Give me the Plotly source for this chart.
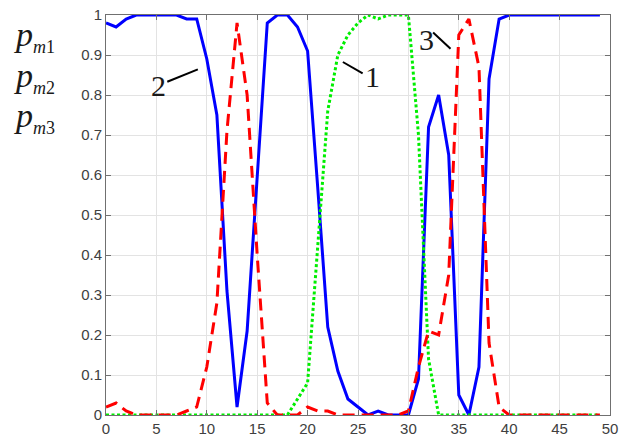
import plotly.graph_objects as go

x_vals = list(range(50))

p_m2_blue = [0.98, 0.97, 0.99, 1.0, 1.0, 1.0, 1.0, 1.0, 0.99, 0.99,
             0.89, 0.75, 0.31, 0.02, 0.21, 0.6, 0.98, 1.0, 1.0, 0.97,
             0.91, 0.57, 0.22, 0.11, 0.04, 0.02, 0.0, 0.01, 0.0, 0.0,
             0.0, 0.09, 0.72, 0.8, 0.65, 0.05, 0.0, 0.12, 0.84, 0.99,
             1.0, 1.0, 1.0, 1.0, 1.0, 1.0, 1.0, 1.0, 1.0, 1.0]

p_m1_green = [0.0] * 19 + [0.04, 0.08, 0.42, 0.76, 0.9, 0.95, 0.98, 1.0, 0.99, 1.0, 1.0,
                           1.0, 0.7, 0.14] + [0.0] * 17

p_m3_red = [0.02, 0.03, 0.01, 0.0, 0.0, 0.0, 0.0, 0.0, 0.01, 0.02,
            0.12, 0.28, 0.71, 0.98, 0.8, 0.4, 0.03, 0.0, 0.0, 0.0,
            0.02, 0.01, 0.01, 0.0, 0.0, 0.0, 0.0, 0.0, 0.0, 0.0,
            0.01, 0.12, 0.21, 0.2, 0.35, 0.95, 0.99, 0.87, 0.18, 0.02,
            0.0, 0.0, 0.0, 0.0, 0.0, 0.0, 0.0, 0.0, 0.0, 0.0]

x_ticks = list(range(0, 51, 5))
y_ticks = [round(i * 0.1, 1) for i in range(11)]
y_tick_text = ["0", "0.1", "0.2", "0.3", "0.4", "0.5", "0.6", "0.7", "0.8", "0.9", "1"]

fig = go.Figure()
fig.add_trace(go.Scatter(x=x_vals, y=p_m2_blue, mode="lines",
                         line=dict(color="#0000ff", width=3), cliponaxis=False))
fig.add_trace(go.Scatter(x=x_vals, y=p_m1_green, mode="lines",
                         line=dict(color="#00ee00", width=3, dash="3px,2.5px"), cliponaxis=False))
fig.add_trace(go.Scatter(x=x_vals, y=p_m3_red, mode="lines",
                         line=dict(color="#ff0000", width=3, dash="12px,7px"), cliponaxis=False))

axis_common = dict(
    showgrid=True, gridcolor="#e3e3e3", gridwidth=1,
    showline=True, linecolor="#707070", linewidth=1, mirror="ticks",
    ticks="inside", ticklen=5, tickcolor="#707070",
    tickfont=dict(family="Liberation Sans, Arial", size=15, color="#404040"),
    zeroline=False, ticklabeloverflow="allow",
)

fig.update_xaxes(range=[0, 50], tickvals=x_ticks, **axis_common)
fig.update_yaxes(range=[0, 1], tickvals=y_ticks, ticktext=y_tick_text, **axis_common)

serif = "Liberation Serif, Times New Roman, serif"
annotations = []
for label, py in [("1", 36), ("2", 77), ("3", 118)]:
    annotations.append(dict(
        xref="paper", yref="paper", x=(10 - 106) / 512, y=(420 - py) / 406,
        xanchor="left", yanchor="middle", showarrow=False,
        text="<i>p</i><sub><span style='font-size:18px'><i>m</i>" + label + "</span></sub>",
        font=dict(family=serif, size=34, color="#1a1a1a"),
    ))

for txt, tx, ty in [("2", 5.18, 0.823), ("1", 26.46, 0.847), ("3", 31.84, 0.938)]:
    annotations.append(dict(xref="x", yref="y", x=tx, y=ty, text=txt, showarrow=False,
                            xanchor="center", yanchor="middle",
                            font=dict(family=serif, size=30, color="#1a1a1a")))

shapes = []
for (x0, y0, x1, y1) in [(6.08, 0.833, 9.11, 0.864), (23.5, 0.8825, 25.46, 0.854),
                         (32.45, 0.956, 34.18, 0.9155)]:
    shapes.append(dict(type="line", xref="x", yref="y", x0=x0, y0=y0, x1=x1, y1=y1,
                       line=dict(color="black", width=2)))

fig.update_layout(
    width=624, height=443,
    margin=dict(l=106, r=6, t=14, b=23),
    paper_bgcolor="white", plot_bgcolor="white",
    showlegend=False,
    annotations=annotations, shapes=shapes,
)

fig.write_html("out.html")
